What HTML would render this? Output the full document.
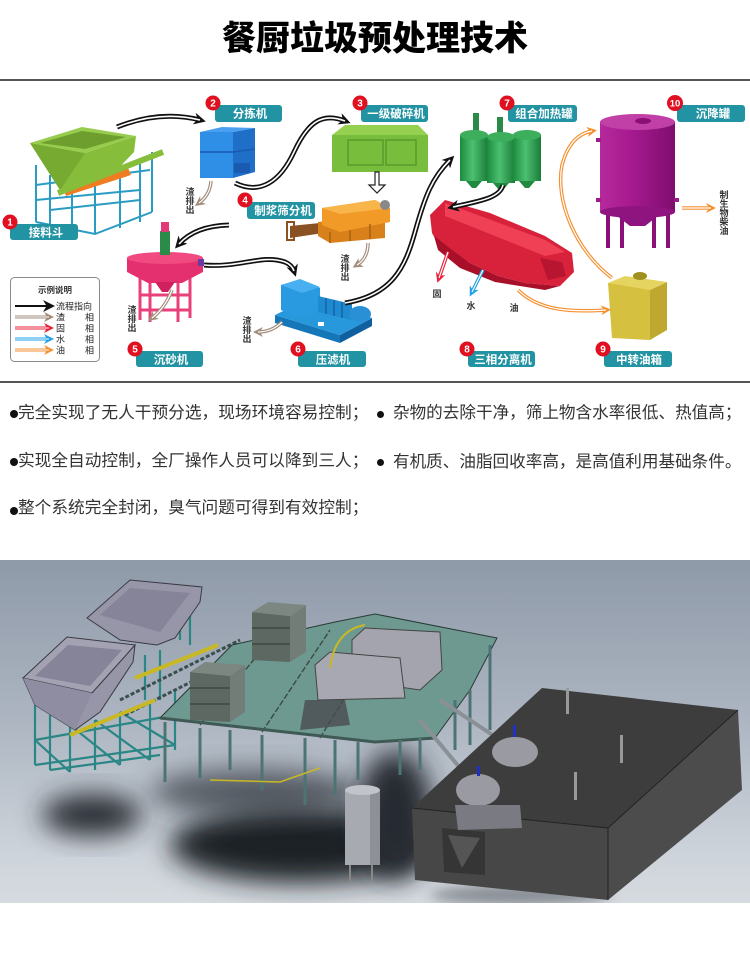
<!DOCTYPE html>
<html><head><meta charset="utf-8">
<style>
html,body{margin:0;padding:0;background:#fff;}
body{width:750px;height:956px;position:relative;overflow:hidden;font-family:"Liberation Sans","Noto Sans CJK SC",sans-serif;}
.t{position:absolute;font-size:16.7px;color:#333;white-space:nowrap;line-height:20px;font-family:"Liberation Sans","Noto Sans CJK SC",sans-serif;}
.r{font-size:16.6px;}
.b{position:absolute;width:8px;height:8px;border-radius:50%;background:#111;}
svg text{font-family:"Liberation Sans","Noto Sans CJK SC",sans-serif;}
</style></head><body>
<svg width="750" height="956" viewBox="0 0 750 956" style="position:absolute;left:0;top:0">
<defs>
<marker id="mk" viewBox="0 0 10 10" refX="5" refY="5" markerWidth="12" markerHeight="12" markerUnits="userSpaceOnUse" orient="auto"><path d="M0,0 L10,5 L0,10 L3,5z" fill="#111"/></marker>
<marker id="mbr" viewBox="0 0 10 10" refX="5" refY="5" markerWidth="10" markerHeight="10" markerUnits="userSpaceOnUse" orient="auto"><path d="M0,0 L10,5 L0,10 L3,5z" fill="#a28c7c"/></marker>
<marker id="mr" viewBox="0 0 10 10" refX="5" refY="5" markerWidth="10" markerHeight="10" markerUnits="userSpaceOnUse" orient="auto"><path d="M0,0 L10,5 L0,10 L3,5z" fill="#e8203a"/></marker>
<marker id="mb" viewBox="0 0 10 10" refX="5" refY="5" markerWidth="10" markerHeight="10" markerUnits="userSpaceOnUse" orient="auto"><path d="M0,0 L10,5 L0,10 L3,5z" fill="#1fa0e8"/></marker>
<marker id="mo" viewBox="0 0 10 10" refX="5" refY="5" markerWidth="10" markerHeight="10" markerUnits="userSpaceOnUse" orient="auto"><path d="M0,0 L10,5 L0,10 L3,5z" fill="#f59030"/></marker>
<linearGradient id="gg" x1="0" x2="1" y1="0" y2="0"><stop offset="0" stop-color="#1c8a3e"/><stop offset=".45" stop-color="#4cc070"/><stop offset="1" stop-color="#1a7c38"/></linearGradient>
<linearGradient id="pg" x1="0" x2="1" y1="0" y2="0"><stop offset="0" stop-color="#b42a9c"/><stop offset=".4" stop-color="#a81a90"/><stop offset="1" stop-color="#7e0e6e"/></linearGradient>
<linearGradient id="bg" x1="0" x2="0" y1="0" y2="1"><stop offset="0" stop-color="#8f9aa9"/><stop offset=".45" stop-color="#abb4c0"/><stop offset=".85" stop-color="#cdd3da"/><stop offset="1" stop-color="#d6dbe0"/></linearGradient>
<filter id="bl" x="-50%" y="-50%" width="200%" height="200%"><feGaussianBlur stdDeviation="13"/></filter>
<filter id="bl2" x="-50%" y="-50%" width="200%" height="200%"><feGaussianBlur stdDeviation="6"/></filter>
<clipPath id="cp"><rect x="0" y="560" width="750" height="343"/></clipPath>
</defs>

<!-- ===== Equipment 1: hopper ===== -->
<g stroke="#2a9cc4" stroke-width="2" fill="none">
<path d="M36,165 V222 M50,175 V228 M72,178 V232 M95,180 V234 M120,172 V228 M140,160 V222 M152,152 V212"/>
<path d="M36,200 L140,190 M36,222 L95,234 L152,212 M50,210 L140,200 M36,185 L150,170 M72,178 L72,232"/>
</g>
<polygon points="63,188 128,168 131,175 66,196" fill="#f07c22"/>
<polygon points="30,143 85,153 136,136 134,152 112,175 60,190" fill="#86bd3a"/>
<polygon points="30,143 85,153 60,190" fill="#76aa30"/>
<polygon points="30,143 82,127 136,136 85,153" fill="#98cc4e"/>
<polygon points="40,143 82,131 126,137 85,149" fill="#6e9f2e"/>
<line x1="58" y1="193" x2="163" y2="152" stroke="#86bd3a" stroke-width="6"/>

<!-- ===== 2: sorter box ===== -->
<rect x="200" y="132" width="33" height="46" fill="#2f8fe6"/>
<polygon points="233,132 255,128 255,172 233,178" fill="#1f6fc8"/>
<polygon points="200,132 222,127 255,128 233,132" fill="#4aa0f0"/>
<path d="M200,152 H233 L255,149" stroke="#1a5ab0" stroke-width="1.5" fill="none"/>
<rect x="234" y="163" width="16" height="10" fill="#1a5ab0"/>

<!-- ===== 3: crusher ===== -->
<polygon points="332,135 345,125 418,125 428,135" fill="#95d050"/>
<rect x="332" y="135" width="96" height="37" fill="#78bd3c"/>
<rect x="348" y="140" width="35" height="25" fill="none" stroke="#5a9a2a" stroke-width="1.5"/>
<rect x="386" y="140" width="30" height="25" fill="none" stroke="#5a9a2a" stroke-width="1.5"/>
<polygon points="375,172 379,172 379,185 385,185 377,193 369,185 375,185" fill="#fff" stroke="#222" stroke-width="1.2"/>

<!-- ===== 4: pulper ===== -->
<polygon points="290,226 330,222 330,232 290,238" fill="#8a5222"/>
<rect x="287" y="222" width="7" height="18" fill="none" stroke="#8a5222" stroke-width="2"/>
<polygon points="318,222 385,215 385,238 330,243 318,236" fill="#d8801a"/>
<polygon points="322,208 375,200 390,208 390,222 340,232 322,225" fill="#f29a28"/>
<polygon points="322,208 375,200 390,208 340,214" fill="#f8b54a"/>
<circle cx="385" cy="205" r="5" fill="#888"/>
<path d="M330,232 V243 M350,230 V241 M370,224 V239" stroke="#a86010" stroke-width="1.5"/>

<!-- ===== 5: settler ===== -->
<g stroke="#e8407a" stroke-width="3" fill="none">
<path d="M140,270 V320 M150,278 V322 M178,278 V322 M190,270 V318 M140,295 H190 M140,310 H190"/>
</g>
<polygon points="127,258 203,258 203,272 182,283 148,283 127,272" fill="#e4306e"/>
<ellipse cx="165" cy="258" rx="38" ry="6" fill="#f04a80"/>
<polygon points="155,282 175,282 168,292 162,292" fill="#d02060"/>
<rect x="160" y="231" width="10" height="24" fill="#2a8c48"/>
<rect x="161" y="222" width="8" height="10" fill="#e23a78"/>
<rect x="198" y="259" width="6" height="7" fill="#6a3aa0"/>

<!-- ===== 6: press ===== -->
<polygon points="275,315 340,335 340,343 275,323" fill="#1677b8"/>
<polygon points="340,335 372,318 372,326 340,343" fill="#1060a0"/>
<polygon points="275,315 310,298 372,318 340,335" fill="#2898dc"/>
<polygon points="281,285 300,280 320,288 320,312 300,318 281,310" fill="#2a9ae0"/>
<polygon points="281,285 300,279 320,287 302,293" fill="#48b0f0"/>
<polygon points="318,296 352,304 352,320 318,312" fill="#1f8ad0"/>
<path d="M326,298 V314 M334,300 V316 M342,302 V318" stroke="#1265a8" stroke-width="1.5"/>
<ellipse cx="360" cy="314" rx="11" ry="8" fill="#2a90d5"/>
<rect x="318" y="322" width="6" height="4" fill="#fff"/>

<!-- ===== 7: heating tanks ===== -->
<rect x="473" y="113" width="6" height="22" fill="#2a8a48"/>
<rect x="497" y="117" width="6" height="20" fill="#2a8a48"/>
<rect x="460" y="135" width="28" height="46" fill="url(#gg)"/>
<rect x="487" y="137" width="28" height="46" fill="url(#gg)"/>
<rect x="513" y="135" width="28" height="46" fill="url(#gg)"/>
<ellipse cx="474" cy="135" rx="14" ry="5" fill="#3cae5c"/>
<ellipse cx="501" cy="137" rx="14" ry="5" fill="#3cae5c"/>
<ellipse cx="527" cy="135" rx="14" ry="5" fill="#3cae5c"/>
<polygon points="466,181 482,181 476,188 472,188" fill="#1f8a40"/>
<polygon points="493,183 509,183 503,190 499,190" fill="#1f8a40"/>
<polygon points="519,181 535,181 529,188 525,188" fill="#1f8a40"/>

<!-- ===== 8: separator ===== -->
<polygon points="430,215 445,200 490,213 545,236 572,253 574,272 560,286 525,283 498,276 468,262 440,247 432,233" fill="#d8213a"/>
<polygon points="445,203 545,240 565,252 545,256 445,216" fill="#f04055"/>
<polygon points="434,236 468,262 498,276 525,283 560,286 545,290 495,282 460,268 438,250" fill="#a8102a"/>
<polygon points="540,258 562,262 566,276 548,280" fill="#b81530"/>

<!-- ===== 9: oil tank ===== -->
<polygon points="608,283 640,280 650,290 650,340 612,338" fill="#d6c040"/>
<polygon points="650,290 667,282 667,330 650,340" fill="#bfa830"/>
<polygon points="608,283 625,276 667,282 650,290" fill="#e6d460"/>
<ellipse cx="640" cy="276" rx="7" ry="4" fill="#a09020"/>

<!-- ===== 10: settling tank ===== -->
<rect x="606" y="212" width="4" height="36" fill="#8a1078"/>
<rect x="620" y="215" width="4" height="33" fill="#8a1078"/>
<rect x="652" y="215" width="4" height="33" fill="#8a1078"/>
<rect x="666" y="212" width="4" height="36" fill="#8a1078"/>
<polygon points="612,212 663,212 645,226 630,226" fill="#8e1480"/>
<rect x="600" y="122" width="75" height="90" fill="url(#pg)"/>
<ellipse cx="637.5" cy="212" rx="37.5" ry="6" fill="#901480"/>
<ellipse cx="637.5" cy="122" rx="37.5" ry="8" fill="#c040a8"/>
<ellipse cx="643" cy="121" rx="8" ry="3" fill="#8a1078"/>
<rect x="596" y="138" width="5" height="4" fill="#a01a8c"/>
<rect x="596" y="198" width="5" height="4" fill="#a01a8c"/>
<rect x="674" y="198" width="5" height="4" fill="#a01a8c"/>

<!-- ===== black flow arrows ===== -->
<g fill="none">
<path d="M117,127 Q160,110 200,120" stroke="#111" stroke-width="5" marker-end="url(#mk)"/>
<path d="M117,127 Q160,110 200,120" stroke="#fff" stroke-width="1.6"/>
<path d="M235,183 C260,195 280,182 294,152 S322,112 345,121" stroke="#111" stroke-width="5" marker-end="url(#mk)"/>
<path d="M235,183 C260,195 280,182 294,152 S322,112 345,121" stroke="#fff" stroke-width="1.6"/>
<path d="M229,225 Q195,226 179,244" stroke="#111" stroke-width="5" marker-end="url(#mk)"/>
<path d="M229,225 Q195,226 179,244" stroke="#fff" stroke-width="1.6"/>
<path d="M204,265 C240,268 262,254 285,262 Q292,265 294,271" stroke="#111" stroke-width="5" marker-end="url(#mk)"/>
<path d="M204,265 C240,268 262,254 285,262 Q292,265 294,271" stroke="#fff" stroke-width="1.6"/>
<path d="M345,303 C392,295 405,268 415,232 S432,178 450,160" stroke="#111" stroke-width="5" marker-end="url(#mk)"/>
<path d="M345,303 C392,295 405,268 415,232 S432,178 450,160" stroke="#fff" stroke-width="1.6"/>
<path d="M503,185 C500,198 480,201 453,207" stroke="#111" stroke-width="5" marker-end="url(#mk)"/>
<path d="M503,185 C500,198 480,201 453,207" stroke="#fff" stroke-width="1.6"/>
</g>
<!-- brown slag arrows -->
<g fill="none">
<path d="M211,181 Q210,195 199,203" stroke="#a28c7c" stroke-width="3.5" marker-end="url(#mbr)"/>
<path d="M211,181 Q210,195 199,203" stroke="#fff" stroke-width="1.2"/>
<path d="M368,243 Q368,258 357,265" stroke="#a28c7c" stroke-width="3.5" marker-end="url(#mbr)"/>
<path d="M368,243 Q368,258 357,265" stroke="#fff" stroke-width="1.2"/>
<path d="M172,290 Q165,308 152,318" stroke="#a28c7c" stroke-width="3.5" marker-end="url(#mbr)"/>
<path d="M172,290 Q165,308 152,318" stroke="#fff" stroke-width="1.2"/>
<path d="M282,322 Q272,332 258,332" stroke="#a28c7c" stroke-width="3.5" marker-end="url(#mbr)"/>
<path d="M282,322 Q272,332 258,332" stroke="#fff" stroke-width="1.2"/>
<path d="M448,252 L439,278" stroke="#e8203a" stroke-width="3.5" marker-end="url(#mr)"/>
<path d="M448,252 L439,278" stroke="#fff" stroke-width="1.2"/>
<path d="M483,270 L472,292" stroke="#1fa0e8" stroke-width="3.5" marker-end="url(#mb)"/>
<path d="M483,270 L472,292" stroke="#fff" stroke-width="1.2"/>
<path d="M518,290 C540,312 575,312 606,310" stroke="#f59030" stroke-width="3.5" marker-end="url(#mo)"/>
<path d="M518,290 C540,312 575,312 606,310" stroke="#fff" stroke-width="1.2"/>
<path d="M612,278 C575,250 555,200 562,165 Q570,135 592,131" stroke="#f59030" stroke-width="3.5" marker-end="url(#mo)"/>
<path d="M612,278 C575,250 555,200 562,165 Q570,135 592,131" stroke="#fff" stroke-width="1.2"/>
<path d="M682,208 L711,208" stroke="#f59030" stroke-width="3.5" marker-end="url(#mo)"/>
<path d="M682,208 L711,208" stroke="#fff" stroke-width="1.2"/>
</g>

<!-- small labels -->
<g font-size="9" font-weight="bold" fill="#333" text-anchor="middle">
<text x="190" y="195">渣</text><text x="190" y="204">排</text><text x="190" y="213">出</text>
<text x="345" y="262">渣</text><text x="345" y="271">排</text><text x="345" y="280">出</text>
<text x="132" y="313">渣</text><text x="132" y="322">排</text><text x="132" y="331">出</text>
<text x="247" y="324">渣</text><text x="247" y="333">排</text><text x="247" y="342">出</text>
<text x="724" y="198">制</text><text x="724" y="207">生</text><text x="724" y="216">物</text><text x="724" y="225">柴</text><text x="724" y="234">油</text>
<text x="437" y="297">固</text><text x="471" y="309">水</text><text x="514" y="311">油</text>
</g>

<!-- legend -->
<rect x="10.5" y="277.5" width="89" height="84" rx="4" fill="#fff" stroke="#8a8a8a" stroke-width="1"/>
<text x="55" y="293" font-size="8.5" font-weight="bold" fill="#333" text-anchor="middle">示例说明</text>
<g fill="none">
<path d="M15,306 L49,306" stroke="#111" stroke-width="2" marker-end="url(#mk)"/>
<path d="M15,317 L49,317" stroke="#a28c7c" stroke-width="3" marker-end="url(#mbr)"/><path d="M15,317 L49,317" stroke="#fff" stroke-width="1"/>
<path d="M15,328 L49,328" stroke="#e8203a" stroke-width="3" marker-end="url(#mr)"/><path d="M15,328 L49,328" stroke="#fff" stroke-width="1"/>
<path d="M15,339 L49,339" stroke="#1fa0e8" stroke-width="3" marker-end="url(#mb)"/><path d="M15,339 L49,339" stroke="#fff" stroke-width="1"/>
<path d="M15,350 L49,350" stroke="#f59030" stroke-width="3" marker-end="url(#mo)"/><path d="M15,350 L49,350" stroke="#fff" stroke-width="1"/>
</g>
<g font-size="9" fill="#222">
<text x="56" y="309.5">流程指向</text>
<text x="56" y="320.5">渣</text><text x="85" y="320.5">相</text>
<text x="56" y="331.5">固</text><text x="85" y="331.5">相</text>
<text x="56" y="342.5">水</text><text x="85" y="342.5">相</text>
<text x="56" y="353.5">油</text><text x="85" y="353.5">相</text>
</g>

<!-- labels -->
<g fill="#2293a3">
<rect x="10" y="224" width="68" height="16" rx="3"/>
<rect x="215" y="105" width="67" height="17" rx="3"/>
<rect x="361" y="105" width="67" height="17" rx="3"/>
<rect x="247" y="202" width="68" height="17" rx="3"/>
<rect x="136" y="351" width="67" height="16" rx="3"/>
<rect x="298" y="351" width="68" height="16" rx="3"/>
<rect x="508" y="105" width="69" height="17" rx="3"/>
<rect x="468" y="351" width="67" height="16" rx="3"/>
<rect x="604" y="351" width="68" height="16" rx="3"/>
<rect x="677" y="105" width="68" height="17" rx="3"/>
</g>
<g fill="#fff" font-size="11.5" font-weight="bold" text-anchor="middle">
<text x="46" y="236.5">接料斗</text>
<text x="250" y="117.5">分拣机</text>
<text x="396" y="117.5">一级破碎机</text>
<text x="283" y="214.5">制浆筛分机</text>
<text x="171" y="363.5">沉砂机</text>
<text x="333" y="363.5">压滤机</text>
<text x="544" y="117.5">组合加热罐</text>
<text x="503" y="363.5">三相分离机</text>
<text x="639" y="363.5">中转油箱</text>
<text x="713" y="117.5">沉降罐</text>
</g>
<g fill="#e01020">
<circle cx="10" cy="222" r="7.5"/><circle cx="213" cy="103" r="7.5"/><circle cx="360" cy="103" r="7.5"/>
<circle cx="245" cy="200" r="7.5"/><circle cx="135" cy="349" r="7.5"/><circle cx="298" cy="349" r="7.5"/>
<circle cx="507" cy="103" r="7.5"/><circle cx="467" cy="349" r="7.5"/><circle cx="603" cy="349" r="7.5"/>
<circle cx="675" cy="103" r="8"/>
</g>
<g fill="#fff" font-size="10" font-weight="bold" text-anchor="middle">
<text x="10" y="225.5">1</text><text x="213" y="106.5">2</text><text x="360" y="106.5">3</text>
<text x="245" y="203.5">4</text><text x="135" y="352.5">5</text><text x="298" y="352.5">6</text>
<text x="507" y="106.5">7</text><text x="467" y="352.5">8</text><text x="603" y="352.5">9</text>
<text x="675" y="106.5" font-size="9.5">10</text>
</g>

<!-- ===== bottom 3D render ===== -->
<g clip-path="url(#cp)">
<rect x="0" y="560" width="750" height="343" fill="url(#bg)"/>
<ellipse cx="92" cy="815" rx="50" ry="21" fill="#2a2e34" filter="url(#bl)"/>
<ellipse cx="300" cy="845" rx="130" ry="38" fill="#1f2227" filter="url(#bl)"/>
<ellipse cx="255" cy="792" rx="105" ry="24" fill="#363a42" opacity=".75" filter="url(#bl)"/>
<ellipse cx="395" cy="815" rx="38" ry="64" fill="#262930" filter="url(#bl)"/>
<ellipse cx="520" cy="895" rx="90" ry="10" fill="#555a62" opacity=".6" filter="url(#bl2)"/>

<g stroke="#2b8686" stroke-width="2.2" fill="none">
<path d="M35,705 V765 M50,715 V770 M70,725 V772 M95,720 V770 M120,712 V765 M150,700 V760 M175,690 V750"/>
<path d="M35,765 L175,745 M35,740 L175,715 M50,770 L160,755 M35,740 L70,772 M70,725 L120,765 M95,720 L150,760 M120,712 L175,745"/>
<path d="M180,595 V640 M190,600 V645 M145,655 V700 M160,650 V700"/>
</g>
<path d="M120,700 L240,640 M125,715 L245,655" stroke="#3a5050" stroke-width="3" stroke-dasharray="4 2"/>
<path d="M70,735 L155,700 M135,678 L218,645" stroke="#c9b826" stroke-width="4"/>

<polygon points="87,618 130,580 202,587 200,602 175,638 157,645 120,640" fill="#9796a8" stroke="#3a3a44" stroke-width="1"/>
<polygon points="100,615 130,588 190,593 160,632" fill="#858498"/>
<polygon points="23,678 92,693 135,645 133,662 100,712 75,730 35,705" fill="#9796a8" stroke="#3a3a44" stroke-width="1"/>
<polygon points="23,678 67,637 135,645 92,693" fill="#a3a2b2" stroke="#3a3a44" stroke-width="1"/>
<polygon points="35,676 68,645 122,650 90,686" fill="#858498"/>
<polygon points="23,678 92,693 75,730 35,705" fill="#8e8da2"/>

<polygon points="160,718 232,645 335,622 375,614 497,638 470,690 435,738 375,742" fill="#6d9990" stroke="#2a3a36" stroke-width="1"/>
<path d="M200,725 L270,640 M262,732 L330,630 M320,738 L380,640" stroke="#3a4a46" stroke-width="1.4" fill="none" stroke-dasharray="6 2"/>
<path d="M160,718 L375,742 L435,738" stroke="#3f5a55" stroke-width="3" fill="none"/>
<g stroke="#4d7474" stroke-width="3">
<path d="M165,722 V782 M200,728 V778 M230,730 V770 M262,735 V790 M305,738 V805 M335,740 V795 M358,742 V780 M400,740 V775 M420,738 V770 M455,700 V750 M490,645 V730 M470,690 V745"/>
</g>
<path d="M210,780 L280,782 L320,768" stroke="#c9b826" stroke-width="1.5" fill="none"/>
<path d="M420,720 L470,780 M440,700 L500,740" stroke="#8a9096" stroke-width="4"/>

<polygon points="252,612 290,616 290,662 252,660" fill="#5d6862"/>
<polygon points="290,616 306,605 306,652 290,662" fill="#737d78"/>
<polygon points="252,612 268,602 306,605 290,616" fill="#7d8782"/>
<path d="M252,628 H290 M252,644 H290" stroke="#333" stroke-width="1"/>
<polygon points="190,672 230,676 230,722 190,720" fill="#5d6862"/>
<polygon points="230,676 245,665 245,712 230,722" fill="#737d78"/>
<polygon points="190,672 205,662 245,665 230,676" fill="#7d8782"/>
<path d="M190,688 H230 M190,704 H230" stroke="#333" stroke-width="1"/>

<polygon points="352,640 365,628 440,632 442,670 420,690 352,680" fill="#a4a4ae" stroke="#444" stroke-width="1"/>
<polygon points="315,665 330,652 400,658 405,698 318,700" fill="#a8a8b2" stroke="#444" stroke-width="1"/>
<polygon points="305,700 345,700 350,725 300,730" fill="#4a4a50" opacity=".8"/>
<path d="M330,668 Q335,630 365,625" stroke="#c9b826" stroke-width="2" fill="none"/>

<rect x="345" y="790" width="35" height="75" fill="#a8aab2"/>
<rect x="370" y="790" width="10" height="75" fill="#8e9098"/>
<ellipse cx="362.5" cy="790" rx="17.5" ry="5" fill="#c2c4cc"/>
<path d="M350,865 V882 M372,865 V882" stroke="#888" stroke-width="2"/>

<polygon points="542,688 738,710 608,828 412,808" fill="#3d3d3d"/>
<polygon points="412,808 608,828 608,900 415,880" fill="#474747"/>
<polygon points="608,828 738,710 742,790 608,900" fill="#4c4c4c"/>
<polygon points="442,828 485,832 485,875 444,872" fill="#353535"/>
<polygon points="448,835 480,838 462,868" fill="#555"/>
<path d="M412,808 L608,828 L738,710 M608,828 V900" stroke="#222" stroke-width="1" fill="none"/>
<rect x="566" y="688" width="3" height="26" fill="#999"/>
<rect x="620" y="735" width="3" height="28" fill="#999"/>
<rect x="574" y="772" width="3" height="28" fill="#999"/>

<ellipse cx="478" cy="790" rx="22" ry="16" fill="#9a9ba2"/>
<ellipse cx="515" cy="752" rx="23" ry="15" fill="#9a9ba2"/>
<rect x="477" y="766" width="3" height="10" fill="#2030c0"/>
<rect x="513" y="725" width="3" height="12" fill="#2030c0"/>
<polygon points="455,805 520,805 522,828 458,830" fill="#7a7b82"/>
</g>
</svg>

<div style="position:absolute;left:0;top:14px;width:750px;text-align:center;font-size:34px;font-weight:900;line-height:44px;color:#000;font-family:'Noto Sans CJK SC',sans-serif;">餐厨垃圾预处理技术</div>
<div style="position:absolute;left:0;top:79px;width:750px;height:2px;background:#555"></div>
<div style="position:absolute;left:0;top:381px;width:750px;height:2px;background:#555"></div>

<div class="b" style="left:10px;top:410px"></div>
<div class="t" style="left:18px;top:403px">完全实现了无人干预分选，现场环境容易控制；</div>
<div class="b" style="left:377px;top:411px;width:7px;height:7px"></div>
<div class="t r" style="left:393px;top:403px">杂物的去除干净，筛上物含水率很低、热值高；</div>

<div class="b" style="left:10px;top:458px"></div>
<div class="t" style="left:18px;top:451px">实现全自动控制，全厂操作人员可以降到三人；</div>
<div class="b" style="left:377px;top:459px;width:7px;height:7px"></div>
<div class="t r" style="left:393px;top:452px">有机质、油脂回收率高，是高值利用基础条件。</div>

<div class="b" style="left:10px;top:507px"></div>
<div class="t" style="left:18px;top:498px">整个系统完全封闭，臭气问题可得到有效控制；</div>
</body></html>
